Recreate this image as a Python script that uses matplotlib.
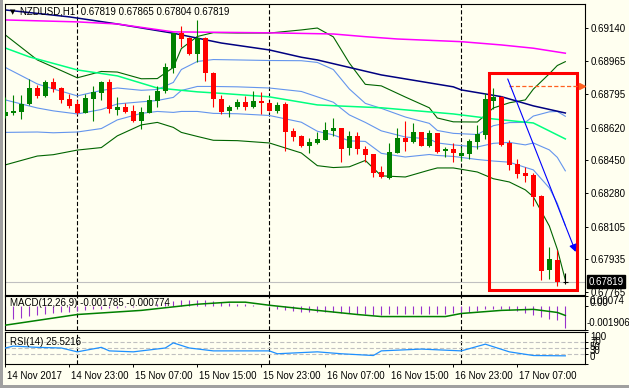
import matplotlib

matplotlib.use("Agg")
import matplotlib.pyplot as plt
from matplotlib.patches import Rectangle
from matplotlib.transforms import blended_transform_factory, ScaledTranslation

plt.rcParams["font.family"] = ["Liberation Sans", "DejaVu Sans"]
plt.rcParams["lines.scale_dashes"] = False

W, H = 629, 388
BG = "#fffff0"
GREEN = "#008000"
RED = "#ff0000"

# --- data: NZDUSD H1 bars, 14 Nov 15:00 .. 17 Nov 13:00 (bar index 0..70) ---
opens = [0.68682, 0.68698, 0.68703, 0.68742, 0.68826, 0.68785, 0.68859, 0.68826, 0.68771, 0.68743,
         0.68698, 0.68771, 0.68802, 0.68859, 0.68712, 0.68726, 0.68707, 0.68656, 0.68698, 0.68760,
         0.68812, 0.68929, 0.69111, 0.69088, 0.69002, 0.69088, 0.68906, 0.68768, 0.68707, 0.68726,
         0.68754, 0.68729, 0.68759, 0.68750, 0.68708, 0.68743, 0.68604, 0.68577, 0.68525, 0.68542,
         0.68556, 0.68604, 0.68618, 0.68516, 0.68577, 0.68509, 0.68483, 0.68388, 0.68357, 0.68490,
         0.68566, 0.68547, 0.68597, 0.68525, 0.68591, 0.68497, 0.68509, 0.68473, 0.68483, 0.68547,
         0.68582, 0.68760, 0.68781, 0.68539, 0.68429, 0.68383, 0.68372, 0.68265, 0.67880, 0.67932,
         0.67819]
highs = [0.68780, 0.68790, 0.68790, 0.68872, 0.68842, 0.68868, 0.68877, 0.68830, 0.68794, 0.68764,
         0.68795, 0.68837, 0.68863, 0.68872, 0.68778, 0.68748, 0.68738, 0.68726, 0.68788, 0.68837,
         0.68955, 0.69111, 0.69149, 0.69090, 0.69180, 0.69090, 0.68908, 0.68790, 0.68738, 0.68768,
         0.68785, 0.68811, 0.68804, 0.68752, 0.68755, 0.68752, 0.68620, 0.68580, 0.68566, 0.68599,
         0.68649, 0.68669, 0.68620, 0.68603, 0.68599, 0.68525, 0.68485, 0.68421, 0.68542, 0.68617,
         0.68655, 0.68646, 0.68599, 0.68608, 0.68593, 0.68518, 0.68539, 0.68518, 0.68559, 0.68632,
         0.68799, 0.68825, 0.68785, 0.68556, 0.68455, 0.68414, 0.68383, 0.68267, 0.67998, 0.67984,
         0.67865]
lows = [0.68670, 0.68686, 0.68663, 0.68740, 0.68773, 0.68778, 0.68807, 0.68750, 0.68721, 0.68691,
        0.68695, 0.68656, 0.68764, 0.68698, 0.68686, 0.68695, 0.68651, 0.68613, 0.68695, 0.68729,
        0.68799, 0.68903, 0.69041, 0.69000, 0.68963, 0.68863, 0.68729, 0.68691, 0.68677, 0.68716,
        0.68712, 0.68722, 0.68691, 0.68705, 0.68698, 0.68500, 0.68552, 0.68518, 0.68490, 0.68535,
        0.68554, 0.68577, 0.68443, 0.68478, 0.68483, 0.68443, 0.68362, 0.68358, 0.68351, 0.68487,
        0.68500, 0.68542, 0.68523, 0.68518, 0.68490, 0.68466, 0.68443, 0.68447, 0.68455, 0.68511,
        0.68559, 0.68716, 0.68525, 0.68400, 0.68357, 0.68339, 0.68213, 0.67828, 0.67831, 0.67796,
        0.67804]
closes = [0.68703, 0.68708, 0.68743, 0.68825, 0.68785, 0.68858, 0.68820, 0.68764, 0.68733, 0.68698,
          0.68774, 0.68805, 0.68858, 0.68716, 0.68729, 0.68700, 0.68656, 0.68700, 0.68764, 0.68812,
          0.68934, 0.69111, 0.69083, 0.69002, 0.69088, 0.68906, 0.68768, 0.68700, 0.68726, 0.68754,
          0.68726, 0.68759, 0.68747, 0.68708, 0.68738, 0.68599, 0.68573, 0.68525, 0.68545, 0.68563,
          0.68608, 0.68618, 0.68511, 0.68577, 0.68507, 0.68479, 0.68386, 0.68362, 0.68495, 0.68565,
          0.68547, 0.68597, 0.68525, 0.68591, 0.68495, 0.68507, 0.68490, 0.68487, 0.68551, 0.68587,
          0.68768, 0.68778, 0.68530, 0.68426, 0.68379, 0.68369, 0.68261, 0.67876, 0.67935, 0.67819,
          0.67819]

# moving averages (bar index, price)
mag_x = [0, 9, 14, 21, 33, 41, 45, 49, 57, 62, 66, 70]
mag_y = [0.69180, 0.69170, 0.69159, 0.69118, 0.69113, 0.69107, 0.69093, 0.69081, 0.69067, 0.69050,
         0.69033, 0.69007]
navy_x = [0, 8, 14, 21, 27, 33, 37, 39, 47, 56, 57, 62, 66, 70]
navy_y = [0.69232, 0.69196, 0.69159, 0.69111, 0.69060, 0.69024, 0.68986, 0.68972, 0.68894, 0.68832,
          0.68816, 0.68781, 0.68733, 0.68696]
spring_x = [0, 3, 9, 14, 19, 24, 27, 33, 39, 42, 47, 56, 61, 66, 70]
spring_y = [0.69034, 0.68988, 0.68920, 0.68889, 0.68826, 0.68806, 0.68798, 0.68780, 0.68738, 0.68732,
            0.68723, 0.68691, 0.68665, 0.68644, 0.68561]

# bollinger bands: middle line and one deviation
bb_x = [0, 4, 6, 9, 12, 14, 17, 19, 21, 22, 24, 26, 29, 33, 37, 39, 41, 43, 45, 47, 50, 53, 54, 56,
        59, 61, 63, 65, 66, 68, 69, 70]
bb_mid = [0.68764, 0.68722, 0.68707, 0.68691, 0.68714, 0.68743, 0.68754, 0.68761, 0.68777, 0.68813,
          0.68834, 0.68834, 0.68832, 0.68826, 0.68808, 0.68780, 0.68752, 0.68686, 0.68647, 0.68603,
          0.68571, 0.68561, 0.68540, 0.68530, 0.68519, 0.68538, 0.68543, 0.68530, 0.68540, 0.68504,
          0.68465, 0.68395]
bb_dev = [0.00169, 0.00125, 0.00114, 0.00094, 0.00099, 0.00083, 0.00060, 0.00057, 0.00078, 0.00109,
          0.00130, 0.00140, 0.00140, 0.00143, 0.00160, 0.00179, 0.00170, 0.00135, 0.00099, 0.00117,
          0.00104, 0.00081, 0.00065, 0.00060, 0.00065, 0.00092, 0.00103, 0.00117, 0.00140, 0.00198,
          0.00239, 0.00284]

# MACD(12,26,9): main line per bar (histogram) and signal line
macd_main = [-0.00116, -0.00102, -0.00094, -0.00084, -0.00076, -0.00068, -0.00060, -0.00054, -0.00048,
             -0.00042, -0.00036, -0.00030, -0.00024, -0.00020, -0.00016, -0.00012, -0.00008, -0.00004,
             0.00000, 0.00008, 0.00020, 0.00032, 0.00040, 0.00044, 0.00044, 0.00040, 0.00032, 0.00024,
             0.00016, 0.00012, 0.00008, 0.00004, 0.00000, -0.00008, -0.00024, -0.00036, -0.00044,
             -0.00048, -0.00052, -0.00052, -0.00048, -0.00048, -0.00056, -0.00060, -0.00064, -0.00068,
             -0.00072, -0.00072, -0.00068, -0.00064, -0.00064, -0.00064, -0.00064, -0.00064, -0.00064,
             -0.00064, -0.00060, -0.00056, -0.00048, -0.00040, -0.00028, -0.00024, -0.00028, -0.00036,
             -0.00044, -0.00056, -0.00076, -0.00088, -0.00102, -0.00116, -0.001785]
signal_x = [0, 9, 17, 24, 28, 30, 33, 39, 44, 47, 55, 57, 62, 66, 69, 70]
signal_y = [-0.00153, -0.00070, -0.00038, 0.00010, 0.00026, 0.00026, 0.00002, -0.00038, -0.00070,
            -0.00086, -0.00086, -0.00062, -0.00038, -0.00030, -0.00054, -0.000774]

# RSI(14)
rsi_x = [0, 1, 4, 7, 9, 12, 13, 16, 20, 21, 23, 26, 33, 34, 39, 42, 46, 47, 52, 57, 60, 63, 66, 70]
rsi_y = [50, 56, 52, 50, 38, 52, 41, 38, 50, 66, 50, 41, 41, 32, 38, 32, 26.5, 41, 46.6, 41, 62, 38,
         26.5, 25.52]
rsi_levels = [30, 50, 70]

# chart objects drawn by the user
box_x = [60.5, 71.5]
box_y = [0.67776, 0.68904]
arrow_from = (62.8, 0.68873)
arrow_to = (71.3, 0.67973)
alert_price = 0.68837
alert_x = [62.9, 71.6, 72.1]
bid = 0.67819

price_ticks = [0.69140, 0.68965, 0.68795, 0.68620, 0.68450, 0.68280, 0.68105, 0.67935, 0.67765]
time_bars = [0, 8, 16, 24, 32, 40, 48, 56, 64]
time_labels = ["14 Nov 2017", "14 Nov 23:00", "15 Nov 07:00", "15 Nov 15:00", "15 Nov 23:00",
               "16 Nov 07:00", "16 Nov 15:00", "16 Nov 23:00", "17 Nov 07:00"]
day_breaks = [9, 33, 57]

# --- figure -----------------------------------------------------------------
fig = plt.figure(figsize=(W / 100, H / 100), dpi=100, facecolor=BG)


def px_axes(left, top, right, bottom):
    a = fig.add_axes([left / W, 1 - bottom / H, (right - left) / W, (bottom - top) / H])
    a.set_facecolor(BG)
    for s in a.spines.values():
        s.set_linewidth(0.8)
    a.set_xlim(-0.04, 72.46)
    a.yaxis.tick_right()
    a.tick_params(axis="y", direction="out", length=2.2, width=0.7, pad=2, labelsize=7)
    a.tick_params(axis="x", bottom=False, labelbottom=False)
    for b in day_breaks:
        a.axvline(b, color="black", lw=0.8, ls=(0, (3, 1.6)), zorder=1)
    return a


ax = px_axes(5, 4, 585, 295)
ax_macd = px_axes(5, 296, 585, 330)
ax_rsi = px_axes(5, 332, 585, 364)

# bollinger bands
up1 = [m + d for m, d in zip(bb_mid, bb_dev)]
lo1 = [m - d for m, d in zip(bb_mid, bb_dev)]
up2 = [m + 2 * d for m, d in zip(bb_mid, bb_dev)]
lo2 = [m - 2 * d for m, d in zip(bb_mid, bb_dev)]
for ys in (up1, bb_mid, lo1):
    ax.plot(bb_x, ys, color="#6495ed", lw=0.8, zorder=2)
for ys in (up2, lo2):
    ax.plot(bb_x, ys, color="#006400", lw=0.8, zorder=2)
ax.plot(spring_x, spring_y, color="#00ff7f", lw=1.1, zorder=2)
ax.plot(navy_x, navy_y, color="#000080", lw=1.1, zorder=2)
ax.plot(mag_x, mag_y, color="#ff00ff", lw=1.1, zorder=2)

# candles
for i, (o, h, l, c) in enumerate(zip(opens, highs, lows, closes)):
    col = GREEN if c > o else RED if c < o else "black"
    ax.vlines(i, l, h, color=col, lw=0.8, zorder=3)
    if c == o:
        ax.hlines(c, i - 0.35, i + 0.35, color=col, lw=0.8, zorder=3)
    else:
        ax.bar(i, abs(c - o), bottom=min(o, c), width=0.64, color=col, linewidth=0, zorder=3)

# bid line and label
ax.axhline(bid, color="#c0c0c0", lw=0.8, zorder=1)
bt = blended_transform_factory(ax.transAxes, ax.transData)
ax.text(1.006, bid, f"{bid:.5f}", transform=bt, ha="left", va="center", color="white", fontsize=7,
        bbox=dict(boxstyle="square,pad=0.12", fc="black", ec="black"), clip_on=False, zorder=6)

# user objects
ax.add_patch(Rectangle((box_x[0], box_y[0]), box_x[1] - box_x[0], box_y[1] - box_y[0],
                       fill=False, ec=RED, lw=2.2, zorder=4))
ax.annotate("", xy=arrow_to, xytext=arrow_from,
            arrowprops=dict(arrowstyle="-|>", color="#0000ff", lw=0.8, mutation_scale=11,
                            shrinkA=0, shrinkB=0), zorder=5)
ax.hlines(alert_price, alert_x[0], alert_x[1], color="#ff6020", lw=0.9, ls=(0, (3, 1.6)), zorder=4)
ax.plot(alert_x[2], alert_price, marker=">", ms=5, color="#ff6020", clip_on=False, zorder=5)

ax.set_ylim(0.67749, 0.69263)
ax.set_yticks(price_ticks)
ax.set_yticklabels([f"{p:.5f}" for p in price_ticks])

fig.text(10 / W, 1 - 12 / H, "\u25bc", fontsize=5, family="DejaVu Sans", va="center", ha="left")
fig.text(20 / W, 1 - 12 / H, "NZDUSD,H1  0.67819 0.67865 0.67804 0.67819", fontsize=7,
         va="center", ha="left")

# MACD panel
ax_macd.vlines(range(len(macd_main)), 0, macd_main, color="#9932cc", lw=0.8, zorder=2)
ax_macd.plot(signal_x, signal_y, color=GREEN, lw=1.1, zorder=3)
ax_macd.set_ylim(-0.001906, 0.00074)
ax_macd.set_yticks([0.00074, 0.0, -0.001906])
ax_macd.set_yticklabels([])
ax_macd.text(5 / 580, 0.78, "MACD(12,26,9) -0.001785 -0.000774", transform=ax_macd.transAxes,
             fontsize=7, va="center", ha="left", zorder=5)
for txt, ypx, xpx in [("0.00074", 300.5, 590), ("0.00", 303.5, 590), ("-0.001906", 323, 587)]:
    fig.text(xpx / W, 1 - ypx / H, txt, fontsize=7, va="center", ha="left")

# RSI panel
for lv in rsi_levels:
    ax_rsi.axhline(lv, color="#c0c0c0", lw=0.8, ls=(0, (3, 1.6)), zorder=1)
ax_rsi.plot(rsi_x, rsi_y, color="#1e90ff", lw=0.9, zorder=3)
ax_rsi.set_ylim(0, 100)
ax_rsi.set_yticks([0, 30, 50, 70, 100])
ax_rsi.set_yticklabels([])
ax_rsi.text(5 / 580, 0.7, "RSI(14) 25.5216", transform=ax_rsi.transAxes, fontsize=7,
            va="center", ha="left", zorder=5)
for txt, ypx in [("100", 337), ("70", 342), ("50", 346.5), ("30", 351), ("0", 357.5)]:
    fig.text(590 / W, 1 - ypx / H, txt, fontsize=7, va="center", ha="left")

ax_rsi.set_xticks(time_bars)
ax_rsi.set_xticklabels(time_labels)
ax_rsi.tick_params(axis="x", bottom=True, labelbottom=True, direction="out", length=2.2,
                   width=0.7, pad=3, labelsize=7)
shift = ScaledTranslation(2 / 100, 0, fig.dpi_scale_trans)
for lab in ax_rsi.get_xticklabels():
    lab.set_horizontalalignment("left")
    lab.set_transform(lab.get_transform() + shift)

# window frame
fig.add_artist(Rectangle((0, 0), 3 / W, 1, transform=fig.transFigure, fc="#a0a0a0", ec="none"))
fig.add_artist(Rectangle((0, 0), 1, 3 / H, transform=fig.transFigure, fc="#a0a0a0", ec="none"))

fig.savefig("out.png", dpi=100, facecolor=BG)
